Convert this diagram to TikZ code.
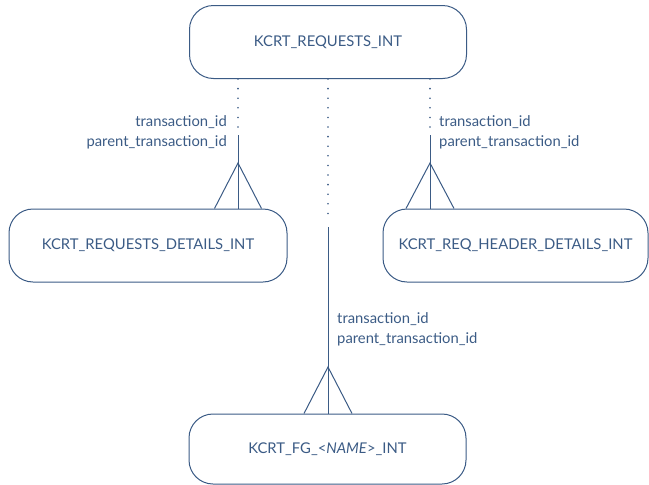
\documentclass[tikz,border=0pt]{standalone}
\usepackage{fontspec}
\setmainfont{Lato}
\definecolor{ln}{HTML}{3B5B85}
\begin{document}
\begin{tikzpicture}[x=1pt,y=-1pt]
\tikzset{
  ent/.style={draw=ln, line width=1pt, rounded corners=24pt, text=ln,
    font=\fontsize{14.8}{16}\selectfont, inner sep=0pt, minimum height=73pt},
  dotln/.style={draw=ln, line width=1.8pt, line cap=round, dash pattern=on 0pt off 9.6pt, dash phase=-9.6pt},
  solid ln/.style={draw=ln, line width=1pt},
  lbl/.style={text=ln, font=\fontsize{14.8}{20}\selectfont, inner sep=0pt}
}
\useasboundingbox (0,0) rectangle (649,485);
\node[ent, minimum width=277pt] (req) at (328,42) {KCRT\_REQUESTS\_INT};
\node[ent, minimum width=278pt] (det) at (148,245.5) {KCRT\_REQUESTS\_DETAILS\_INT};
\node[ent, minimum width=265pt] (hdr) at (515.5,245.5) {KCRT\_REQ\_HEADER\_DETAILS\_INT};
\node[ent, minimum width=277pt, minimum height=70pt] (fg) at (327.5,449) {KCRT\_FG\_<\textit{NAME}>\_INT};

% left connector
\coordinate (l1) at (238,131);
\coordinate (l2) at (238,135);
\coordinate (la) at (238,163);
\draw[dotln] (l1 |- req.south) -- (l1);
\draw[solid ln] (l2) -- (l2 |- det.north);
\draw[solid ln] ([xshift=-23.5pt]la |- det.north) -- (la) -- ([xshift=23.5pt]la |- det.north);

% right connector
\coordinate (r1) at (430,131);
\coordinate (r2) at (430,135);
\coordinate (ra) at (430,163);
\draw[dotln] (r1 |- req.south) -- (r1);
\draw[solid ln] (r2) -- (r2 |- hdr.north);
\draw[solid ln] ([xshift=-24pt]ra |- hdr.north) -- (ra) -- ([xshift=24pt]ra |- hdr.north);

% middle connector
\coordinate (m1) at (328,222);
\coordinate (m2) at (328,227);
\coordinate (ma) at (328,367);
\draw[dotln] (m1 |- req.south) -- (m1);
\draw[solid ln] (m2) -- (m2 |- fg.north);
\draw[solid ln] ([xshift=-24pt]ma |- fg.north) -- (ma) -- ([xshift=24pt]ma |- fg.north);

% labels
\node[lbl, align=right, anchor=east] (ll) at (227,132) {transaction\_id\\parent\_transaction\_id};
\node[lbl, align=left, anchor=west] (rl) at (439,132) {transaction\_id\\parent\_transaction\_id};
\node[lbl, align=left, anchor=west] (ml) at (337,329.5) {transaction\_id\\parent\_transaction\_id};
\end{tikzpicture}
\end{document}
